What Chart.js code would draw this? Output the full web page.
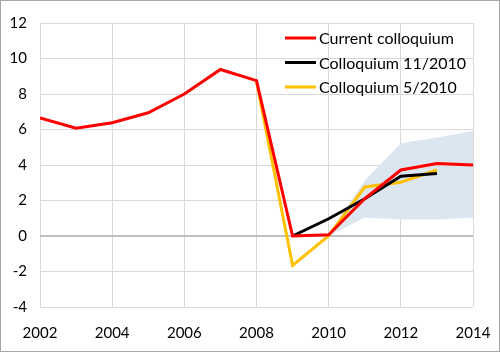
<!DOCTYPE html>
<html>
<head>
<meta charset="utf-8">
<script src="https://cdn.jsdelivr.net/npm/chart.js@4"></script>
<style>
  body { margin: 0; background: #fff; }
  #wrap { width: 500px; height: 352px; box-sizing: border-box; border: 1px solid #a6a6a6; }
</style>
</head>
<body>
<div id="wrap"><canvas id="chart" width="498" height="350"></canvas></div>
<script>
'use strict';

// growth paths
const years = [2002, 2003, 2004, 2005, 2006, 2007, 2008, 2009, 2010, 2011, 2012, 2013, 2014];
const current = [6.65, 6.07, 6.38, 6.94, 8.0, 9.38, 8.75, 0.0, 0.07, 2.1, 3.72, 4.08, 4.0];
const nov2010Years = [2009, 2010, 2011, 2012, 2013];
const nov2010 = [0.0, 0.97, 2.1, 3.37, 3.52];
const may2010Years = [2008, 2009, 2010, 2011, 2012, 2013];
const may2010 = [8.7, -1.66, 0.02, 2.76, 3.03, 3.72];
// uncertainty band
const bandYears = [2010, 2011, 2012, 2013, 2014];
const bandLow = [0.0, 1.04, 0.93, 0.93, 1.04];
const bandHigh = [0.1, 3.13, 5.23, 5.55, 5.92];

const yTicks = [-4, -2, 0, 2, 4, 6, 8, 10, 12];
const xTicks = [2002, 2004, 2006, 2008, 2010, 2012, 2014];

function pts(xs, ys){
  return xs.map((x, i) => ({x: x, y: ys[i]}));
}

const family = 'Lato, "Open Sans", sans-serif';
const tickFont = {family: family, size: 15};

//legend drawn inside the plot, top right
const insideLegend = {
  id: 'insideLegend',
  afterDraw(chart){
    const ctx = chart.ctx;
    const area = chart.chartArea;
    const x0 = area.right - 188;
    let y = area.top + 15;
    ctx.save();
    ctx.font = '16px ' + family;
    ctx.textBaseline = 'middle';
    for (let i = 0; i < 3; i++){
      const ds = chart.data.datasets[i];
      ctx.strokeStyle = ds.borderColor;
      ctx.lineWidth = 3;
      ctx.beginPath();
      ctx.moveTo(x0, y);
      ctx.lineTo(x0 + 31, y);
      ctx.stroke();
      ctx.fillStyle = '#000';
      ctx.fillText(ds.label, x0 + 34, y + 1);
      y += 24.5;
    }
    ctx.restore();
  }
};

const line = {fill: false, pointRadius: 0, borderWidth: 3, tension: 0};

new Chart(document.getElementById('chart'), {
  type: 'line',
  data: {
    datasets: [
      Object.assign({label: 'Current colloquium', data: pts(years, current), borderColor: '#ff0000'}, line),
      Object.assign({label: 'Colloquium 11/2010', data: pts(nov2010Years, nov2010), borderColor: '#000000'}, line),
      Object.assign({label: 'Colloquium 5/2010', data: pts(may2010Years, may2010), borderColor: '#ffc000'}, line),
      {label: 'band high', data: pts(bandYears, bandHigh), borderWidth: 0, pointRadius: 0,
        backgroundColor: '#dce6f0', fill: '+1'},
      {label: 'band low', data: pts(bandYears, bandLow), borderWidth: 0, pointRadius: 0, fill: false}
    ]
  },
  options: {
    responsive: false,
    animation: false,
    layout: {padding: {top: 20, right: 26, left: 0, bottom: 0}},
    plugins: {legend: {display: false}, tooltip: {enabled: false}},
    scales: {
      x: {
        type: 'linear', min: 2002, max: 2014,
        afterBuildTicks: (s) => { s.ticks = xTicks.map(v => ({value: v})); },
        afterFit: (s) => { s.height = 44; s.paddingLeft = 0; s.paddingRight = 0; },
        grid: {color: '#d9d9d9', lineWidth: 1, drawTicks: false},
        border: {display: false},
        ticks: {font: tickFont, color: '#000', padding: 17, maxRotation: 0, callback: (v) => String(v)}
      },
      y: {
        min: -4, max: 12,
        afterBuildTicks: (s) => { s.ticks = yTicks.map(v => ({value: v})); },
        afterFit: (s) => { s.width = 39; },
        grid: {
          color: (c) => c.tick && c.tick.value === 0 ? '#bfbfbf' : '#d9d9d9',
          lineWidth: (c) => c.tick && c.tick.value === 0 ? 2 : 1,
          drawTicks: false
        },
        border: {display: false},
        ticks: {font: tickFont, color: '#000', padding: 13}
      }
    }
  },
  plugins: [insideLegend]
});
</script>
</body>
</html>
